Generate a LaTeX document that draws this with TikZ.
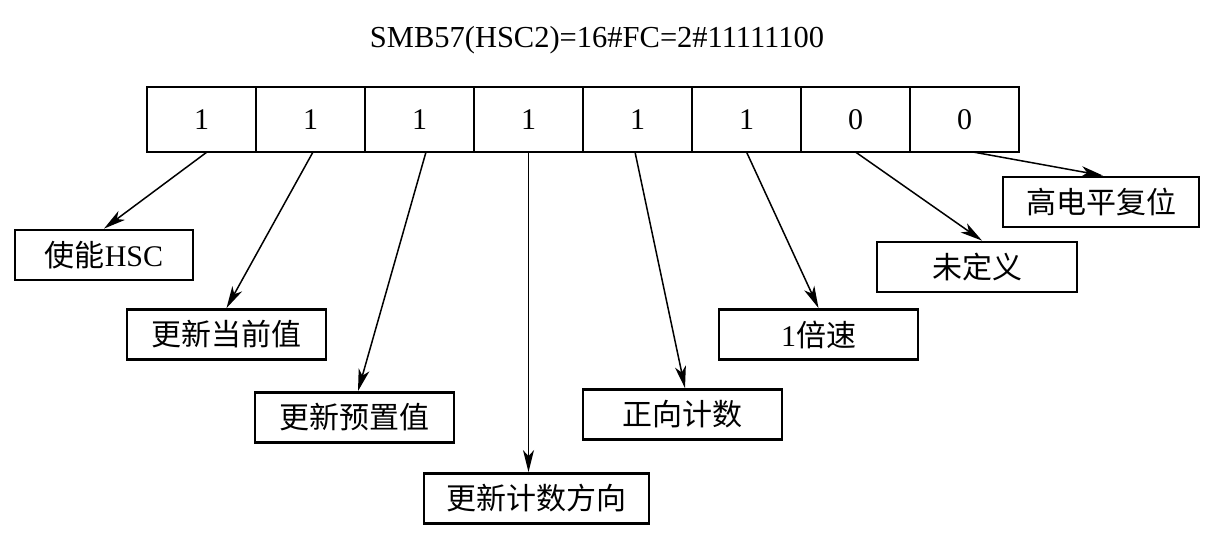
\documentclass[tikz,border=0pt]{standalone}
\usepackage{fontspec}
\setmainfont{Liberation Serif}
\newfontfamily\cjk{Noto Sans CJK SC}
\usetikzlibrary{arrows.meta,calc}
\begin{document}
\begin{tikzpicture}[x=1pt,y=-1pt,
  cell/.style={draw,line width=1.8pt,minimum width=109pt,minimum height=65pt,inner sep=0pt,outer sep=0pt,font=\fontsize{30}{32}\selectfont},
  lbl/.style={draw,line width=2.8pt,minimum height=50pt,inner sep=0pt,font=\fontsize{30}{32}\selectfont},
  arr/.style={line width=1.5pt,-{Stealth[length=22pt,width=11pt,inset=6pt]}}]
\useasboundingbox (0,0) rectangle (1217,547);
\node (title) at (597,40) {\fontsize{30.5}{32}\selectfont SMB57(HSC2)=16\#FC=2\#11111100};
\node[cell] (c1) at (201.5,119.5) {1};
\node[cell] (c2) at (310.5,119.5) {1};
\node[cell] (c3) at (419.5,119.5) {1};
\node[cell] (c4) at (528.5,119.5) {1};
\node[cell] (c5) at (637.5,119.5) {1};
\node[cell] (c6) at (746.5,119.5) {1};
\node[cell] (c7) at (855.5,119.5) {0};
\node[cell] (c8) at (964.5,119.5) {0};
\draw[line width=2.8pt] (c1.north west) rectangle (c8.south east);
\node[lbl,minimum width=178pt] (b1) at (104,255) {\cjk 使能\rmfamily HSC};
\node[lbl,minimum width=199pt] (b2) at (226.5,334.5) {\cjk 更新当前值};
\node[lbl,minimum width=199pt] (b3) at (354.5,417.5) {\cjk 更新预置值};
\node[lbl,minimum width=225pt] (b4) at (536.5,498.5) {\cjk 更新计数方向};
\node[lbl,minimum width=199pt] (b5) at (682.5,414.5) {\cjk 正向计数};
\node[lbl,minimum width=199pt] (b6) at (818.5,334.5) {1{\cjk 倍速}};
\node[lbl,minimum width=200pt] (b7) at (977,267) {\cjk 未定义};
\node[lbl,minimum width=196pt] (b8) at (1101,202) {\cjk 高电平复位};
\draw[arr] ([xshift=5.5pt]c1.south) -- (b1.north);
\draw[arr] ([xshift=2.5pt]c2.south) -- (b2.north);
\draw[arr] ([xshift=6.5pt]c3.south) -- ([xshift=3.5pt]b3.north);
\draw[arr] (c4.south) -- (c4.south |- b4.north);
\draw[arr] ([xshift=-2.5pt]c5.south) -- ([xshift=2.5pt]b5.north);
\draw[arr] (c6.south) -- (b6.north);
\draw[arr] (c7.south) -- ([xshift=5pt]b7.north);
\draw[arr] ([xshift=8.5pt]c8.south) -- ([xshift=2pt]b8.north);
\end{tikzpicture}
\end{document}
